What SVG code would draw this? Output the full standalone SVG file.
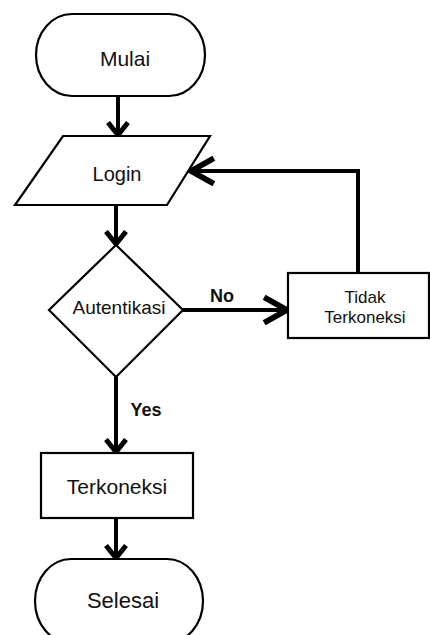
<svg xmlns="http://www.w3.org/2000/svg" width="430" height="635" viewBox="0 0 430 635">
<defs>
<style>
.shape{fill:#fff;stroke:#000;stroke-width:2.2}
.conn{fill:none;stroke:#000;stroke-width:4;stroke-linejoin:miter}
.t{font-family:"Liberation Sans",Arial,sans-serif;fill:#111;text-anchor:middle}
.b{font-weight:bold}
</style>
<marker id="ah" markerUnits="userSpaceOnUse" markerWidth="30" markerHeight="30" viewBox="-20 -12 24 24" refX="0" refY="0" orient="auto">
<path d="M-10,-8 L0,0 L-10,8" fill="none" stroke="#000" stroke-width="4"/>
</marker>
<marker id="ahL" markerUnits="userSpaceOnUse" markerWidth="40" markerHeight="40" viewBox="-24 -14 28 28" refX="0" refY="0" orient="auto">
<path d="M-16,-9 L0,0 L-16,9" fill="none" stroke="#000" stroke-width="4"/>
</marker>
</defs>
<rect width="430" height="635" fill="#fff"/>
<g id="connectors">
<path class="conn" d="M118,97 L118,135" marker-end="url(#ah)"/>
<path class="conn" d="M116,205 L116,244" marker-end="url(#ah)"/>
<path class="conn" d="M183,310 L287,310" marker-end="url(#ahL)"/>
<path class="conn" d="M358,273 L358,171 L191,171" marker-end="url(#ahL)"/>
<path class="conn" d="M116,377 L116,452" marker-end="url(#ah)"/>
<path class="conn" d="M116,518 L116,558" marker-end="url(#ah)"/>
<text class="t b" x="222" y="302" font-size="18">No</text>
<text class="t b" x="146" y="416" font-size="18">Yes</text>
</g>
<g id="mulai">
<rect class="shape" x="36" y="14" width="169" height="82" rx="36" ry="41"/>
<text class="t" x="125" y="66" font-size="21">Mulai</text>
</g>
<g id="login">
<polygon class="shape" points="63,136 210,136 167,205 15,205"/>
<text class="t" x="117" y="181" font-size="20">Login</text>
</g>
<g id="autentikasi">
<polygon class="shape" points="116,245 183,310 116,377 49,310"/>
<text class="t" x="119" y="314" font-size="19">Autentikasi</text>
</g>
<g id="tidak">
<rect class="shape" x="288" y="273" width="141" height="65"/>
<text class="t" x="365" y="303" font-size="17">Tidak</text>
<text class="t" x="365" y="323" font-size="17">Terkoneksi</text>
</g>
<g id="terkoneksi">
<rect class="shape" x="41" y="453" width="152" height="65"/>
<text class="t" x="117" y="494" font-size="21">Terkoneksi</text>
</g>
<g id="selesai">
<rect class="shape" x="35" y="559" width="168" height="84" rx="36" ry="44"/>
<text class="t" x="123" y="608" font-size="22">Selesai</text>
</g>
</svg>
